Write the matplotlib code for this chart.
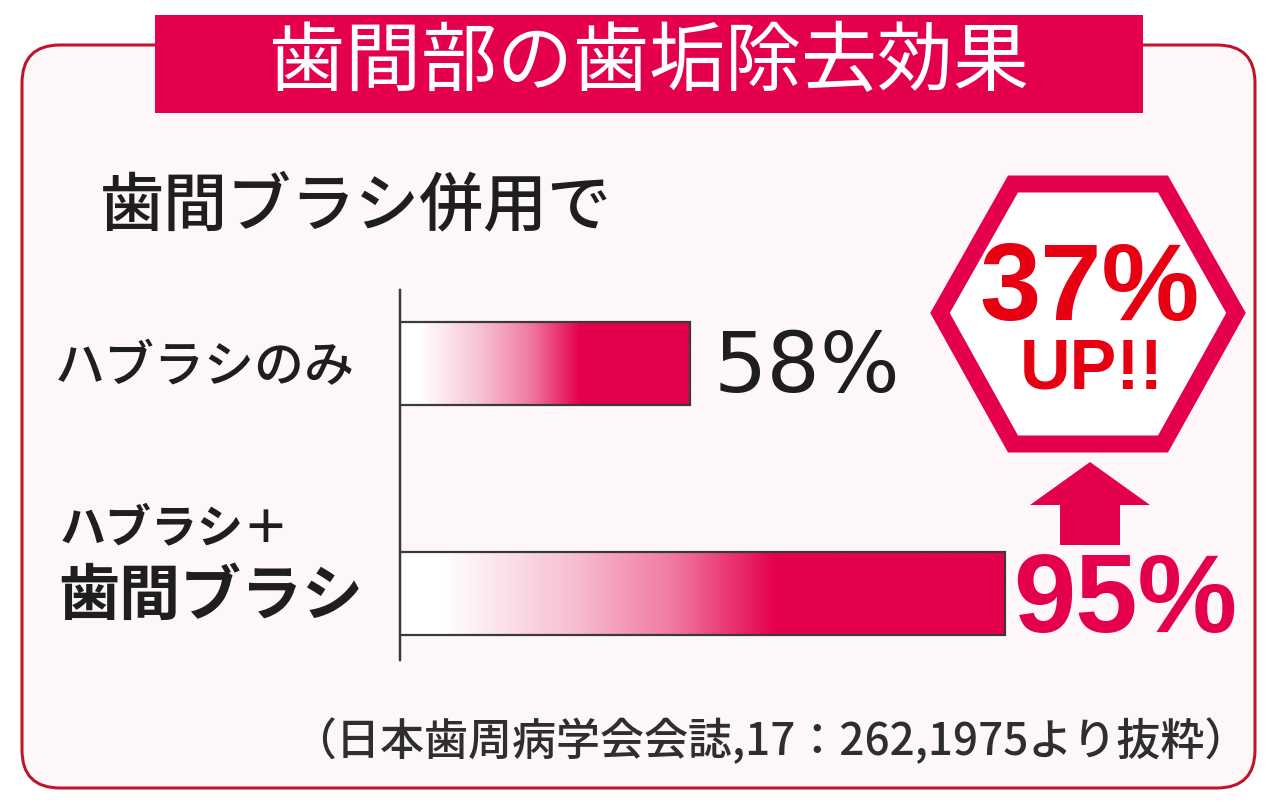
import matplotlib
matplotlib.use('Agg')
import matplotlib.pyplot as plt
import numpy as np
from matplotlib.patches import FancyBboxPatch, Rectangle, Polygon
from matplotlib.colors import LinearSegmentedColormap

plt.rcParams['font.family'] = ['Noto Sans CJK JP', 'DejaVu Sans']

# data
categories = ['ハブラシのみ', 'ハブラシ＋\n歯間ブラシ']
values = [58, 95]
value_labels = ['58%', '95%']
title = '歯間部の歯垢除去効果'
subtitle = '歯間ブラシ併用で'
badge_main = '37%'
badge_sub = 'UP!!'
source = '（日本歯周病学会会誌,17：262,1975より抜粋）'

W, H = 1280, 809
PT = 0.72  # px -> pt at dpi 100

crimson = '#E5004F'
red = '#E60012'
frame = '#C0122C'
ink = '#1e1e1e'

fig = plt.figure(figsize=(W / 100, H / 100), dpi=100)
fig.patch.set_facecolor('white')

# decoration layer in pixel coordinates
bg = fig.add_axes([0, 0, 1, 1])
bg.set_xlim(0, W)
bg.set_ylim(H, 0)
bg.axis('off')

bg.add_patch(FancyBboxPatch((22, 45), 1233, 743,
                            boxstyle='round,pad=0,rounding_size=38',
                            facecolor='#FDF7F8', edgecolor=frame, linewidth=3 * PT))
bg.add_patch(Rectangle((155, 15), 988, 98, facecolor=crimson, edgecolor='none'))
bg.text(649, 64, title, color='white', fontsize=76 * PT, ha='center', va='center')

bg.text(100, 207, subtitle, color=ink, fontsize=64 * PT, ha='left', va='center',
        fontweight='medium')

# category labels
bg.text(55, 368, categories[0], color=ink, fontsize=50 * PT, ha='left', va='center',
        fontweight='medium')
top, bottom = categories[1].split('\n')
bg.text(60, 528, top, color=ink, fontsize=46 * PT, ha='left', va='center', fontweight='bold')
bg.text(58, 597, bottom, color=ink, fontsize=61 * PT, ha='left', va='center', fontweight='bold')

# hexagon badge
hexagon = [(1013, 184), (1163, 184), (1236, 313), (1163, 444), (1013, 444), (940, 313)]
bg.add_patch(Polygon(hexagon, closed=True, facecolor='white', edgecolor=crimson,
                     linewidth=17 * PT, joinstyle='miter'))
bg.text(1090, 292, badge_main, color=red, fontsize=110 * PT, ha='center', va='center',
        fontweight='bold', family=['Liberation Sans', 'DejaVu Sans'])
bg.text(1092, 370, badge_sub, color=red, fontsize=70 * PT, ha='center', va='center',
        fontweight='bold', family=['Liberation Sans', 'DejaVu Sans'])

# up arrow
arrow = [(1090, 462), (1150, 505), (1120, 505), (1120, 545),
         (1060, 545), (1060, 505), (1030, 505)]
bg.add_patch(Polygon(arrow, closed=True, facecolor=crimson, edgecolor='none'))

bg.text(770, 742, source, color='#2e2e2e', fontsize=44 * PT, ha='center', va='center',
        fontweight='medium')

# bar chart layer
x0 = 24.0                     # visible axis start (truncated axis)
px_per_unit = 605 / (95 - x0)
ax_left, ax_top, ax_bottom = 400, 290, 660
ax_right = W
ax = fig.add_axes([ax_left / W, 1 - ax_bottom / H, (ax_right - ax_left) / W,
                   (ax_bottom - ax_top) / H])
ax.set_facecolor('none')
ypos = np.arange(len(values))
unit = 230
for s in ['top', 'right', 'bottom']:
    ax.spines[s].set_visible(False)
ax.spines['left'].set_color('#3a3a3a')
ax.spines['left'].set_linewidth(2.5 * PT)
ax.set_xticks([])
ax.set_yticks([])

bar_h = 83 / unit
cmap = LinearSegmentedColormap.from_list(
    'grad', [(0, '#FFFFFF'), (0.07, '#FFFFFF'), (0.28, '#F7C0D3'),
             (0.45, '#F07AA2'), (0.62, crimson), (1, crimson)])
grad = np.linspace(0, 1, 256).reshape(1, -1)
bars = ax.barh(ypos, values, height=bar_h, left=0, facecolor='none',
               edgecolor='#3a3a3a', linewidth=2.2 * PT, zorder=3)
for b, v in zip(bars, values):
    im = ax.imshow(grad, cmap=cmap, aspect='auto', zorder=2,
                   extent=[x0, v, b.get_y() + bar_h, b.get_y()])
    im.set_clip_path(b)
ax.set_xlim(x0, x0 + (ax_right - ax_left) / px_per_unit)
ax.set_ylim(ypos[-1] + (ax_bottom - 593.5) / unit, ypos[0] - (363.5 - ax_top) / unit)

ax.text(values[0] + 24 / px_per_unit, ypos[0] + 0.02, value_labels[0], color=ink,
        fontsize=84 * PT, ha='left', va='center', family=['DejaVu Sans'])
ax.text(values[1] + 8 / px_per_unit, ypos[1] + 0.04, value_labels[1], color=crimson,
        fontsize=112 * PT, ha='left', va='center', fontweight='bold',
        family=['Liberation Sans', 'DejaVu Sans'])

fig.savefig('out.png', dpi=100, facecolor='white')
